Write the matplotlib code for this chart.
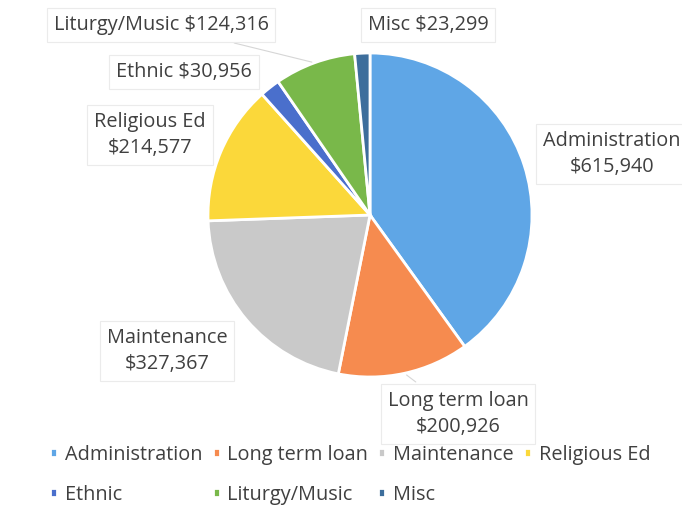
import numpy as np
import matplotlib
matplotlib.use("Agg")
import matplotlib.pyplot as plt

# =========================
# DONNÉES
# =========================

categories = ["Administration", "Long term loan", "Maintenance", "Religious Ed",
              "Ethnic", "Liturgy/Music", "Misc"]
montants = [615940, 200926, 327367, 214577, 30956, 124316, 23299]
couleurs = ["#5fa6e6", "#f68b4f", "#c9c9c9", "#fbd83a", "#4a6fcc", "#79b84a", "#3d6e9c"]

# position (pixels) des étiquettes, et si elles sont sur deux lignes
pos_labels = {
    "Administration": (612, 154, True),
    "Long term loan": (458, 414, True),
    "Maintenance": (167, 351, True),
    "Religious Ed": (150, 135, True),
    "Ethnic": (184, 72, False),
    "Liturgy/Music": (161, 25, False),
    "Misc": (428, 25, False),
}
leaders = {"Liturgy/Music", "Long term loan"}

plt.rcParams["font.family"] = ["Open Sans", "DejaVu Sans"]

W, H = 682, 508
fig = plt.figure(figsize=(W / 100, H / 100), dpi=100)
fig.patch.set_facecolor("white")

# axe du camembert : centre (370, 215), rayon 162 px
cx, cy, r = 370, 215, 162
ax = fig.add_axes([(cx - r) / W, (H - cy - r) / H, 2 * r / W, 2 * r / H])
wedges, _ = ax.pie(montants, colors=couleurs, startangle=90, counterclock=False,
                   wedgeprops=dict(edgecolor="white", linewidth=2), radius=1)
ax.set_xlim(-1, 1)
ax.set_ylim(-1, 1)
ax.set_aspect("equal")
ax.axis("off")

box = dict(boxstyle="square,pad=0.35", fc="white", ec="#ebebeb", lw=0.8)
FS = 14.3

for w, cat, val in zip(wedges, categories, montants):
    x, y, deux_lignes = pos_labels[cat]
    txt = f"{cat}\n${val:,}" if deux_lignes else f"{cat} ${val:,}"
    xf, yf = x / W, 1 - y / H
    if cat in leaders:
        ang = np.deg2rad((w.theta1 + w.theta2) / 2)
        ax.annotate(txt, xy=(np.cos(ang), np.sin(ang)), xycoords="data",
                    xytext=(xf, yf), textcoords="figure fraction",
                    ha="center", va="center", fontsize=FS, color="#404040",
                    linespacing=1.4, bbox=box,
                    arrowprops=dict(arrowstyle="-", color="#d6d6d6", lw=0.8))
    else:
        fig.text(xf, yf, txt, ha="center", va="center", fontsize=FS,
                 color="#404040", linespacing=1.4, bbox=box)

# légende remplie par lignes : on réordonne pour le remplissage par colonnes
ordre = [0, 4, 1, 5, 2, 6, 3]
leg = fig.legend([wedges[i] for i in ordre], [categories[i] for i in ordre],
                 loc="upper left", bbox_to_anchor=(0.062, 0.14),
                 ncol=4, frameon=False, fontsize=FS, handlelength=0.35,
                 handleheight=0.35, handletextpad=0.4, columnspacing=0.5,
                 labelspacing=1.0, borderaxespad=0)
for t in leg.get_texts():
    t.set_color("#404040")

plt.savefig("out.png", dpi=100)
